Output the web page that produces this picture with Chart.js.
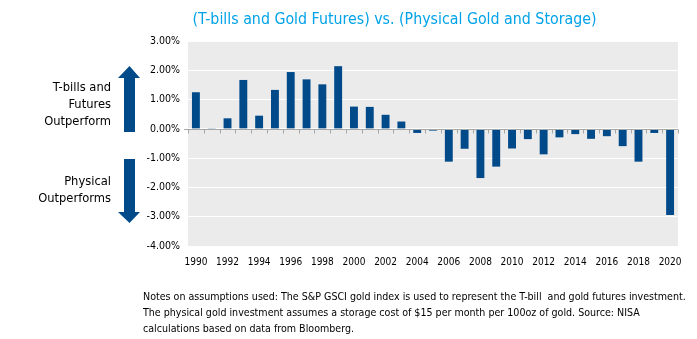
<!DOCTYPE html>
<html>
<head>
<meta charset="utf-8">
<script src="https://cdn.jsdelivr.net/npm/chart.js@4"></script>
<style>
    body { margin: 0; background: #fff; }
    #wrap { position: relative; width: 697px; height: 339px; overflow: hidden; }
    #grafico { position: absolute; left: 0; top: 0; }
    .txt { position: absolute; font-family: "DejaVu Sans Condensed", "DejaVu Sans", sans-serif; color: #000; white-space: nowrap; }
    #titulo { left: 0; width: 789px; top: 9px; text-align: center; font-size: 15.8px; color: #00a2e8; }
    .lado { right: 586px; text-align: right; font-size: 12.8px; line-height: 17px; }
    #arriba { top: 78px; }
    #abajo { top: 172px; }
    #notas { left: 143px; top: 288px; font-size: 10.6px; line-height: 16px; }
    #flechas { position: absolute; left: 0; top: 0; }
</style>
</head>
<body>
<div id="wrap">
    <canvas id="grafico" width="697" height="339"></canvas>
    <div class="txt" id="titulo">(T-bills and Gold Futures) vs. (Physical Gold and Storage)</div>
    <div class="txt lado" id="arriba">T-bills and<br>Futures<br>Outperform</div>
    <div class="txt lado" id="abajo">Physical<br>Outperforms</div>
    <svg id="flechas" width="160" height="240">
        <polygon points="124,132 135,132 135,78 140,78 129.5,66 118,78 124,78" fill="#014a8a"/>
        <polygon points="124,159 135,159 135,212 140,212 129.5,223 118,212 124,212" fill="#014a8a"/>
    </svg>
    <div class="txt" id="notas">Notes on assumptions used: The S&amp;P GSCI gold index is used to represent the T-bill&nbsp; and gold futures investment.<br>The physical gold investment assumes a storage cost of $15 per month per 100oz of gold. Source: NISA<br>calculations based on data from Bloomberg.</div>
</div>
<script>
// Datos
const anios = [
    "1990", "1991", "1992", "1993", "1994", "1995", "1996", "1997", "1998", "1999",
    "2000", "2001", "2002", "2003", "2004", "2005", "2006", "2007", "2008", "2009",
    "2010", "2011", "2012", "2013", "2014", "2015", "2016", "2017", "2018", "2019", "2020"
];

const diferencia = [
    1.25, 0.01, 0.36, 1.67, 0.45, 1.33, 1.94, 1.69, 1.52, 2.14,
    0.76, 0.75, 0.48, 0.25, -0.14, -0.06, -1.12, -0.68, -1.68, -1.29,
    -0.67, -0.35, -0.87, -0.29, -0.18, -0.34, -0.25, -0.59, -1.12, -0.14, -2.94
];

const marcasY = [3, 2, 1, 0, -1, -2, -3, -4];

const fuente = "'DejaVu Sans Condensed', 'DejaVu Sans', sans-serif";

// Fondo gris, línea del cero y marcas del eje
const fondo = {
    id: "fondo",
    beforeDraw(chart) {
        const { ctx, chartArea } = chart;
        ctx.save();
        ctx.fillStyle = "#ebebeb";
        ctx.fillRect(chartArea.left, chartArea.top, chartArea.right - chartArea.left, chartArea.bottom - chartArea.top);
        ctx.restore();
    },
    afterDatasetsDraw(chart) {
        const { ctx, chartArea, scales } = chart;
        const y0 = Math.round(scales.y.getPixelForValue(0)) + 0.5;
        const paso = (chartArea.right - chartArea.left) / anios.length;
        ctx.save();
        ctx.strokeStyle = "#a6a6a6";
        ctx.lineWidth = 1;
        ctx.beginPath();
        ctx.moveTo(chartArea.left - 4, y0);
        ctx.lineTo(chartArea.right, y0);
        for (let i = 0; i <= anios.length; i++) {
            const x = Math.round(scales.x.getPixelForValue(i) - paso / 2) + 0.5;
            ctx.moveTo(x, y0);
            ctx.lineTo(x, y0 + 4);
        }
        ctx.stroke();
        ctx.restore();
    }
};

new Chart(

    document.getElementById("grafico"),

    {

        type: "bar",

        data: {

            labels: anios,

            datasets: [{

                data: diferencia,

                backgroundColor: "#014a8a",

                barPercentage: 0.5,

                categoryPercentage: 1

            }]

        },

        options: {

            responsive: false,

            animation: false,

            layout: {
                padding: { left: 133, right: 19, top: 41, bottom: 63 }
            },

            plugins: {
                legend: { display: false },
                tooltip: { enabled: false }
            },

            scales: {

                x: {
                    grid: { display: false, drawTicks: false },
                    border: { display: false },
                    ticks: {
                        autoSkip: false,
                        maxRotation: 0,
                        padding: 10,
                        color: "#000",
                        font: { family: fuente, size: 10 },
                        callback: function (valor, indice) {
                            return indice % 2 === 0 ? anios[indice] : "";
                        }
                    },
                    afterFit: function (escala) { escala.height = 30; }
                },

                y: {
                    min: -4,
                    max: 3,
                    afterBuildTicks: function (escala) {
                        escala.ticks = marcasY.map(v => ({ value: v }));
                    },
                    grid: { color: "#ffffff", lineWidth: 1, drawTicks: false },
                    border: { display: false },
                    ticks: {
                        padding: 8,
                        color: "#000",
                        font: { family: fuente, size: 10.5 },
                        callback: function (valor) {
                            return valor.toFixed(2) + "%";
                        }
                    },
                    afterFit: function (escala) { escala.width = 55; }
                }

            }

        },

        plugins: [fondo]

    }

);
</script>
</body>
</html>
